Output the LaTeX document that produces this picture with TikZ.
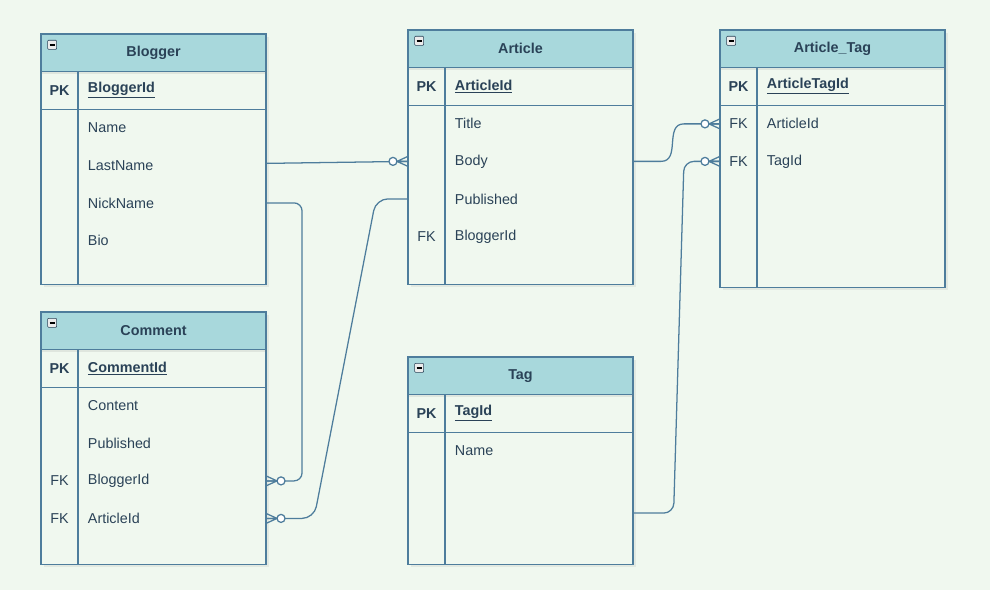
\documentclass[tikz,border=0pt]{standalone}
\usepackage{fontspec}
\setmainfont{Liberation Sans}
\usetikzlibrary{positioning, shadows}

\definecolor{bgcol}{HTML}{F0F8EF}
\definecolor{headcol}{HTML}{A8D8DC}
\definecolor{linecol}{HTML}{4E7D9C}
\definecolor{textcol}{HTML}{2A4257}

\newcommand{\pkname}[1]{\underline{\textbf{#1}}}

\tikzset{
  tabbox/.style={draw=linecol, line width=0.8pt, fill=bgcol, minimum width=5.625cm, inner sep=0pt, anchor=north,
    drop shadow={shadow xshift=2pt, shadow yshift=-2pt, opacity=0.12}},
  tabhead/.style={draw=linecol, line width=0.8pt, fill=headcol, minimum width=5.625cm, minimum height=0.94cm, inner sep=0pt,
    outer sep=0pt, text=textcol, font=\fontsize{10.2}{12}\selectfont\bfseries,
    drop shadow={shadow xshift=1pt, shadow yshift=-2pt, opacity=0.15}},
  collapse/.style={draw=textcol, fill=gray!15, rounded corners=0.6pt, minimum size=0.225cm, inner sep=0pt,
    path picture={\draw[black, line width=1.1pt] ([xshift=0.05cm]path picture bounding box.west) -- ([xshift=-0.05cm]path picture bounding box.east);}},
  keycell/.style={minimum width=0.925cm, minimum height=0.9375cm, inner sep=0pt, outer sep=0pt, text=textcol,
    font=\fontsize{10.2}{12}\selectfont},
  field/.style={text width=4.2cm, inner xsep=0.25cm, inner ysep=0pt, outer sep=0pt, minimum height=0.9375cm, align=left,
    text=textcol, font=\fontsize{10.2}{12}\selectfont},
  grid/.style={draw=linecol, line width=0.8pt},
  link/.style={draw=linecol, line width=0.9pt},
  zeromany/.pic={
    \draw[link] (-11,0) -- (0,-5) (-11,0) -- (0,5) (-11,0) -- (0,0);
    \draw[link, fill=white] (-15,0) circle[radius=4];
  }
}

\begin{document}
\begin{tikzpicture}[x=0.025cm, y=-0.025cm]
\fill[bgcol] (0,0) rectangle (990,590);
\useasboundingbox (0,0) rectangle (990,590);

% Blogger
\node[tabbox, minimum height=6.25cm] (bloggerbox) at (153.5,34) {};
\node[tabhead, below=0pt of bloggerbox.north] (blogger) {Blogger};
\node[collapse, below right=0.15cm and 0.175cm of bloggerbox.north west] (blogger-min) {};
\node[keycell, below right=0pt of blogger.south west] (b-pk-k) {\textbf{PK}};
\node[field, right=0pt of b-pk-k] (b-pk) {\pkname{BloggerId}};
\node[keycell, below=0pt of b-pk-k] (b-name-k) {};
\node[field, right=0pt of b-name-k] (b-name) {Name};
\node[keycell, below=0pt of b-name-k] (b-lastname-k) {};
\node[field, right=0pt of b-lastname-k] (b-lastname) {LastName};
\node[keycell, below=0pt of b-lastname-k] (b-nickname-k) {};
\node[field, right=0pt of b-nickname-k] (b-nickname) {NickName};
\node[keycell, below=0pt of b-nickname-k] (b-bio-k) {};
\node[field, right=0pt of b-bio-k] (b-bio) {Bio};
\draw[grid] (b-pk-k.north east) -- (b-pk-k.north east |- bloggerbox.south);
\draw[grid] (b-pk-k.south west) -- (b-pk.south east);

% Comment
\node[tabbox, minimum height=6.3cm] (commentbox) at (153.5,312) {};
\node[tabhead, below=0pt of commentbox.north] (comment) {Comment};
\node[collapse, below right=0.15cm and 0.175cm of commentbox.north west] (comment-min) {};
\node[keycell, below right=0pt of comment.south west] (c-pk-k) {\textbf{PK}};
\node[field, right=0pt of c-pk-k] (c-pk) {\pkname{CommentId}};
\node[keycell, below=0pt of c-pk-k] (c-content-k) {};
\node[field, right=0pt of c-content-k] (c-content) {Content};
\node[keycell, below=0pt of c-content-k] (c-published-k) {};
\node[field, right=0pt of c-published-k] (c-published) {Published};
\node[keycell, below=0pt of c-published-k] (c-bloggerid-k) {FK};
\node[field, right=0pt of c-bloggerid-k] (c-bloggerid) {BloggerId};
\node[keycell, below=0pt of c-bloggerid-k] (c-articleid-k) {FK};
\node[field, right=0pt of c-articleid-k] (c-articleid) {ArticleId};
\draw[grid] (c-pk-k.north east) -- (c-pk-k.north east |- commentbox.south);
\draw[grid] (c-pk-k.south west) -- (c-pk.south east);

% Article
\node[tabbox, minimum height=6.35cm] (articlebox) at (520.5,30) {};
\node[tabhead, below=0pt of articlebox.north] (article) {Article};
\node[collapse, below right=0.15cm and 0.175cm of articlebox.north west] (article-min) {};
\node[keycell, below right=0pt of article.south west] (a-pk-k) {\textbf{PK}};
\node[field, right=0pt of a-pk-k] (a-pk) {\pkname{ArticleId}};
\node[keycell, below=0pt of a-pk-k] (a-title-k) {};
\node[field, right=0pt of a-title-k] (a-title) {Title};
\node[keycell, below=0pt of a-title-k] (a-body-k) {};
\node[field, right=0pt of a-body-k] (a-body) {Body};
\node[keycell, below=0pt of a-body-k] (a-published-k) {};
\node[field, right=0pt of a-published-k] (a-published) {Published};
\node[keycell, below=0pt of a-published-k] (a-bloggerid-k) {FK};
\node[field, right=0pt of a-bloggerid-k] (a-bloggerid) {BloggerId};
\draw[grid] (a-pk-k.north east) -- (a-pk-k.north east |- articlebox.south);
\draw[grid] (a-pk-k.south west) -- (a-pk.south east);

% Tag
\node[tabbox, minimum height=5.175cm] (tagbox) at (520.5,357) {};
\node[tabhead, below=0pt of tagbox.north] (tag) {Tag};
\node[collapse, below right=0.15cm and 0.175cm of tagbox.north west] (tag-min) {};
\node[keycell, below right=0pt of tag.south west] (t-pk-k) {\textbf{PK}};
\node[field, right=0pt of t-pk-k] (t-pk) {\pkname{TagId}};
\node[keycell, below=0pt of t-pk-k] (t-name-k) {};
\node[field, right=0pt of t-name-k] (t-name) {Name};
\draw[grid] (t-pk-k.north east) -- (t-pk-k.north east |- tagbox.south);
\draw[grid] (t-pk-k.south west) -- (t-pk.south east);

% Article_Tag
\node[tabbox, minimum height=6.425cm] (arttagbox) at (832.5,30) {};
\node[tabhead, below=0pt of arttagbox.north] (arttag) {Article\_Tag};
\node[collapse, below right=0.15cm and 0.175cm of arttagbox.north west] (arttag-min) {};
\node[keycell, below right=0pt of arttag.south west] (at-pk-k) {\textbf{PK}};
\node[field, right=0pt of at-pk-k] (at-pk) {\pkname{ArticleTagId}};
\node[keycell, below=0pt of at-pk-k] (at-articleid-k) {FK};
\node[field, right=0pt of at-articleid-k] (at-articleid) {ArticleId};
\node[keycell, below=0pt of at-articleid-k] (at-tagid-k) {FK};
\node[field, right=0pt of at-tagid-k] (at-tagid) {TagId};
\draw[grid] (at-pk-k.north east) -- (at-pk-k.north east |- arttagbox.south);
\draw[grid] (at-pk-k.south west) -- (at-pk.south east);

% relations
\draw[link] ([yshift=0.05cm]b-lastname.east) -- (a-body-k.west);
\pic at (a-body-k.west) {zeromany};

\draw[link, rounded corners=0.2cm] (b-nickname.east) -| ([xshift=0.9cm]c-bloggerid.east) -- (c-bloggerid.east);
\pic[rotate=180] at (c-bloggerid.east) {zeromany};

\draw[link, rounded corners=0.3cm] (a-published-k.west) -- ([xshift=-0.8cm]a-published-k.west)
  -- ([xshift=1.2cm]c-articleid.east) -- (c-articleid.east);
\pic[rotate=180] at (c-articleid.east) {zeromany};

\draw[link] (a-body.east) -- ++(0.7cm,0) .. controls +(0.5cm,0) and +(-0.5cm,0) .. ([xshift=-0.9cm]at-articleid-k.west)
  -- (at-articleid-k.west);
\pic at (at-articleid-k.west) {zeromany};

\draw[link, rounded corners=0.25cm] ([yshift=-1.3cm]tagbox.east) -- ++(1cm,0)
  -- ([xshift=-0.9cm]at-tagid-k.west) -- (at-tagid-k.west);
\pic at (at-tagid-k.west) {zeromany};
\end{tikzpicture}
\end{document}
